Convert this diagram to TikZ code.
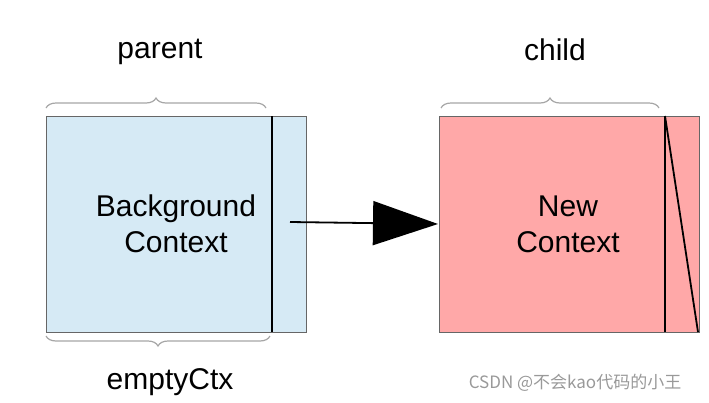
\documentclass[tikz,border=0pt]{standalone}
\usepackage{fontspec}
\setmainfont{Liberation Sans}
\newfontfamily\cjk{Noto Sans CJK SC}
\usetikzlibrary{decorations.pathreplacing,arrows.meta}
\begin{document}
\begin{tikzpicture}[x=1pt,y=-1pt,
  boxst/.style={draw=gray!80!black,line width=1pt},
  brc/.style={draw=gray!70,line width=1.2pt,decorate,decoration={brace,amplitude=10pt}},
  lbl/.style={font=\fontsize{30}{36}\selectfont,align=center}]
\useasboundingbox (0,0) rectangle (709,402);
\fill[boxst,fill={rgb,255:red,214;green,234;blue,245}] (46,116) rectangle (306,332);
\draw[line width=1.8pt] (272,116) -- (272,332);
\fill[boxst,fill={rgb,255:red,255;green,168;blue,168}] (439,116) rectangle (699,332);
\draw[line width=1.8pt] (665,116) -- (665,332);
\draw[line width=1.8pt] (665,116) -- (698,332);
\node[lbl] (bg) at (176,224) {Background\\Context};
\node[lbl] (nc) at (568,224) {New\\Context};
\node[lbl] (p) at (160,52) {parent};
\node[lbl] (c) at (555,50) {child};
\node[lbl] (e) at (170,382) {emptyCtx};
\coordinate (a1) at (290,222);
\coordinate (a2) at (438,224);
\draw[line width=1.8pt,-{Triangle[length=65pt,width=44pt]}] (a1) -- (a2);
\draw[brc] (46,108) -- (266,108);
\draw[brc] (441,108) -- (659,108);
\draw[brc] (270,336) -- (46,336);
\node[text=gray!80,font=\cjk\fontsize{17}{20}\selectfont] (w) at (575,383) {CSDN @不会kao代码的小王};
\end{tikzpicture}
\end{document}
